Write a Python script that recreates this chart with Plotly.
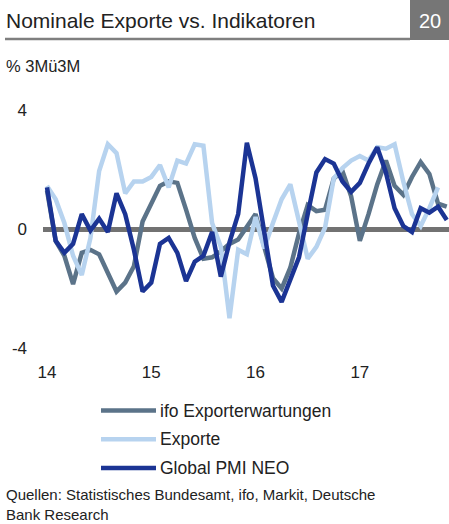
import plotly.graph_objects as go
# ---------------------------------------------------------------------------

# data: monthly, Jan 2014 - Nov 2017
months = [f"{y}-{m:02d}" for y in range(2014, 2018) for m in range(1, 13)][:47]

ifo = [1.3, -0.4, -0.9, -1.85, -0.8, -0.7, -0.85, -1.5, -2.1, -1.8, -1.25, 0.25,
       0.85, 1.45, 1.6, 1.55, 0.65, -0.3, -1.0, -0.95, -0.75, -0.5, -0.35, 0.05,
       0.5, -0.6, -1.65, -2.0, -1.3, -0.15, 0.8, 0.6, 0.65, 1.7, 1.95, 1.1,
       -0.4, 0.5, 1.5, 2.3, 1.45, 1.15, 1.75, 2.25, 1.85, 0.85, 0.75]

exporte = [1.45, 1.0, 0.2, -0.9, -1.55, -0.3, 1.95, 2.85, 2.55, 1.2, 1.6, 1.6,
           1.75, 2.15, 1.4, 2.3, 2.2, 2.85, 2.8, 0.2, -0.6, -3.0, -0.7, -0.85,
           0.4, -0.65, 0.2, 1.0, 1.5, 0.3, -1.0, -0.6, 0.05, 1.7, 2.05, 2.3,
           2.45, 2.3, 2.75, 2.7, 2.85, 1.6, 0.5, 0.1, 0.7, 1.4]

pmi = [1.4, -0.4, -0.8, -0.5, 0.5, -0.05, 0.35, -0.1, 1.2, 0.5, -0.7, -2.1,
       -1.8, -0.5, -0.3, -0.8, -1.75, -1.1, -0.9, -0.1, -1.6, -0.45, 0.5, 2.9,
       1.7, 0.0, -1.9, -2.45, -1.7, -0.95, 0.5, 1.9, 2.35, 2.2, 1.6, 1.25,
       1.55, 2.2, 2.75, 1.9, 0.7, 0.1, -0.1, 0.7, 0.55, 0.75, 0.3]

series_names = ["ifo Exporterwartungen", "Exporte", "Global PMI NEO"]
series_values = [ifo, exporte, pmi]
series_colors = ["#5b7389", "#b7d3ef", "#1b3494"]

tick_vals = ["2014-01", "2015-01", "2016-01", "2017-01"]
tick_text = ["14", "15", "16", "17"]

FONT = "Liberation Sans, Arial, sans-serif"
W, H = 449, 524
L, T, B = 43, 110, 176
# ---------------------------------------------------------------------------

# pixel -> paper helpers
def px_x(p):
  return (p - L) / (W - L)

def px_y(p):
  return (H - B - p) / (H - B - T)
# ---------------------------------------------------------------------------

fig = go.Figure()

# create lines
for name, vals, color in zip(series_names, series_values, series_colors):
  fig.add_trace(go.Scatter(
    x=months[:len(vals)], y=vals, name=name, mode="lines",
    line=dict(color=color, width=4.5), showlegend=False,
  ))

# custom legend (long line samples)
for k, (name, color) in enumerate(zip(series_names, series_colors)):
  yy = px_y(410.5 + k * 28.8)
  fig.add_shape(type="line", xref="paper", yref="paper",
                x0=px_x(101), x1=px_x(156), y0=yy, y1=yy,
                line=dict(color=color, width=4.5))
  fig.add_annotation(text=name, xref="paper", yref="paper", x=px_x(158), y=yy,
                     xanchor="left", yanchor="middle", showarrow=False,
                     font=dict(size=17.5, color="#222222"))

# header: title, underline, number box
fig.add_annotation(text="Nominale Exporte vs. Indikatoren", xref="paper", yref="paper",
                   x=px_x(4), y=px_y(20), xanchor="left", yanchor="middle",
                   showarrow=False, font=dict(size=21, color="#222222"))
fig.add_shape(type="line", xref="paper", yref="paper",
              x0=px_x(5), x1=px_x(410), y0=px_y(39), y1=px_y(39),
              line=dict(color="#7f7f7f", width=2.5))
fig.add_shape(type="rect", xref="paper", yref="paper",
              x0=px_x(410), x1=px_x(449), y0=px_y(40), y1=px_y(0),
              fillcolor="#767676", line=dict(width=0))
fig.add_annotation(text="20", xref="paper", yref="paper",
                   x=px_x(430), y=px_y(21), xanchor="center", yanchor="middle",
                   showarrow=False, font=dict(size=20, color="white"))

# unit label
fig.add_annotation(text="% 3Mü3M", xref="paper", yref="paper",
                   x=px_x(4), y=px_y(66), xanchor="left", yanchor="middle",
                   showarrow=False, font=dict(size=16.5, color="#222222"))

# source (one two-line block)
fig.add_annotation(text="Quellen: Statistisches Bundesamt, ifo, Markit, Deutsche<br>Bank Research",
                   xref="paper", yref="paper", x=px_x(5), y=px_y(505),
                   xanchor="left", yanchor="middle", align="left", borderpad=0,
                   showarrow=False, font=dict(size=15, color="#222222"))

# custom layout
fig.update_layout(
  width=W, height=H, autosize=False,
  margin=dict(l=L, r=0, t=T, b=B, pad=0),
  paper_bgcolor="white", plot_bgcolor="white",
  font=dict(family=FONT, size=17, color="#222222"),
  xaxis=dict(
    type="category", range=[-0.46, 46.26], tickvals=tick_vals, ticktext=tick_text,
    showgrid=False, zeroline=False, showline=False, ticks="",
    ticklabelstandoff=12,
  ),
  yaxis=dict(
    range=[-4, 4], tickvals=[-4, 0, 4], ticktext=["-4", "0", "4"],
    showgrid=True, gridcolor="#c8c8c8", gridwidth=1.5,
    zeroline=True, zerolinecolor="#727272", zerolinewidth=4.5,
    showline=False, ticks="", ticklabelstandoff=15,
  ),
)

# no page margin so the figure sits at the window's top-left corner
fig.write_html("out.html", config={"displayModeBar": False},
               post_script="document.body.style.margin='0';")
